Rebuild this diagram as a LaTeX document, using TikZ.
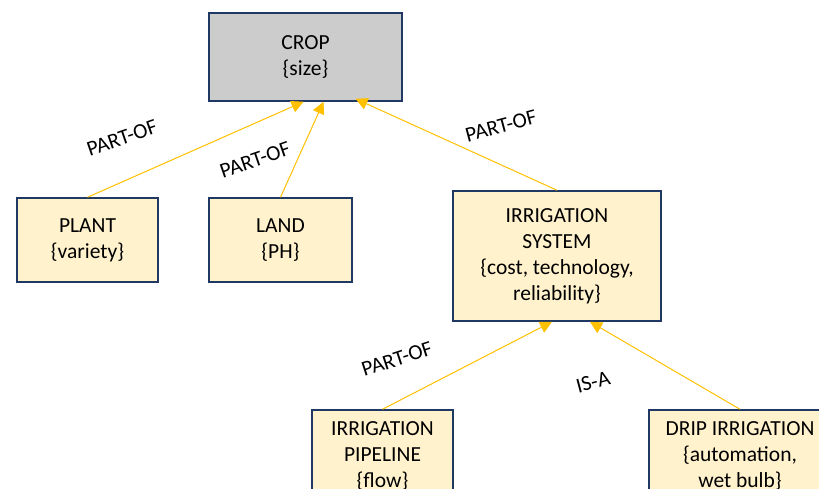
\documentclass[tikz,border=0pt]{standalone}
\usepackage{fontspec}
\setmainfont{Carlito}
\usetikzlibrary{arrows.meta}
\definecolor{frame}{HTML}{1F3864}
\definecolor{cream}{HTML}{FFF2CC}
\definecolor{greybox}{HTML}{CCCCCC}
\definecolor{link}{HTML}{FFC000}
\tikzset{
  concept/.style={draw=frame, line width=1.5pt, fill=cream, align=center,
    inner sep=0pt, font=\fontsize{21.5}{26}\selectfont},
  rel/.style={draw=link, line width=1pt, -{Triangle[length=12pt,width=12pt]}},
  rellabel/.style={font=\fontsize{21.5}{24}\selectfont, inner sep=0pt}
}
\begin{document}
\begin{tikzpicture}[x=1pt,y=-1pt]
\useasboundingbox (0,0) rectangle (819,488);
\clip (0,0) rectangle (819,488);

% concept boxes
\node[concept, fill=greybox, minimum width=193pt, minimum height=88pt] (crop) at (305.5,57) {CROP\\\{size\}};
\node[concept, minimum width=141pt, minimum height=84pt] (plant) at (87.5,240) {PLANT\\\{variety\}};
\node[concept, minimum width=143pt, minimum height=84pt] (land) at (280.5,240) {LAND\\\{PH\}};
\node[concept, minimum width=208pt, minimum height=130pt] (irr) at (557,256) {IRRIGATION\\SYSTEM\\\{cost, technology,\\reliability\}};
\node[concept, minimum width=141pt, minimum height=92pt] (pipe) at (382.5,456) {IRRIGATION\\PIPELINE\\\{flow\}};
\node[concept, minimum width=182pt, minimum height=92pt] (drip) at (740,456) {DRIP IRRIGATION\\\{automation,\\wet bulb\}};

% relations
\draw[rel] (plant.north) -- ([xshift=-2pt]crop.south);
\draw[rel] (land.north) -- ([xshift=18pt]crop.south);
\draw[rel] (irr.north) -- ([xshift=50pt,yshift=3pt]crop.south);
\draw[rel] (pipe.north) -- ([xshift=-5pt]irr.south);
\draw[rel] (drip.north) -- ([xshift=33pt]irr.south);

% relation labels
\node[rellabel, rotate=19] (l1) at (122,138) {PART-OF};
\node[rellabel, rotate=19] (l2) at (255,160) {PART-OF};
\node[rellabel, rotate=15] (l3) at (501,126) {PART-OF};
\node[rellabel, rotate=18] (l4) at (397,359) {PART-OF};
\node[rellabel, rotate=15] (l5) at (593,382) {IS-A};
\end{tikzpicture}
\end{document}
